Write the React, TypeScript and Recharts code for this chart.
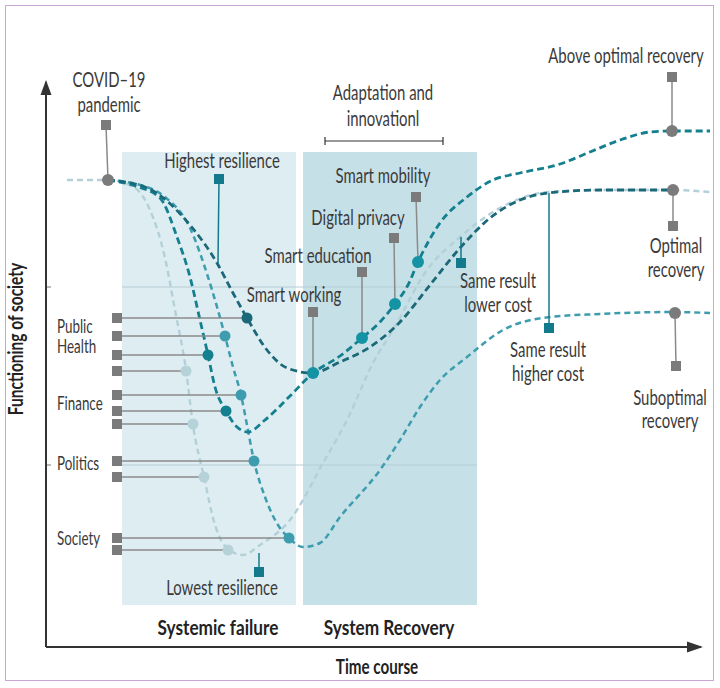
import React from "react";
import {
	Line,
	LineChart,
	ReferenceArea,
	ReferenceDot,
	ReferenceLine,
	XAxis,
	YAxis,
} from "recharts";

// time course (x) and functioning of society (y), arbitrary units
const lowX = [2.1, 6.2, 8.9, 10.4, 11.9, 12.9, 14.0, 14.7, 15.8, 16.9, 18.2, 19.7, 21.4, 24.4, 27.7, 30.1, 32.7, 34.7, 38.1, 41.4, 45.4, 50.2, 55.4, 62.6, 66.4];
const lowY = [46.7, 46.7, 45.9, 43.7, 38.9, 33.7, 27.7, 22.2, 17.0, 12.2, 9.8, 9.2, 10.2, 12.7, 18.4, 22.7, 28.4, 31.7, 37.7, 41.0, 43.9, 45.5, 45.7, 45.7, 45.5];

const midX = [6.2, 9.4, 11.9, 14.4, 16.2, 17.9, 18.7, 19.5, 20.1, 20.8, 21.9, 23.2, 24.3, 25.7, 27.4, 29.4, 33.4, 35.4, 37.4, 39.4, 42.1, 45.7, 50.4, 55.4, 62.6, 66.4];
const midY = [46.7, 46.2, 45.0, 41.9, 37.0, 31.1, 28.0, 25.2, 22.2, 18.6, 15.0, 12.2, 10.9, 10.0, 10.4, 13.0, 17.7, 20.7, 24.0, 26.7, 29.0, 31.7, 33.0, 33.3, 33.5, 33.4];

const adaptX = [6.2, 8.9, 11.4, 13.1, 14.4, 15.4, 16.2, 16.9, 18.0, 19.1, 20.2, 21.9, 24.4, 26.6, 29.4, 31.6, 33.4, 34.9, 36.2, 37.2, 39.4, 42.1, 44.7, 47.4, 51.4, 54.4, 57.4, 60.4, 62.6, 66.4];
const adaptY = [46.7, 46.1, 44.9, 41.0, 37.0, 32.7, 29.2, 26.0, 23.6, 22.0, 21.5, 22.7, 25.1, 27.3, 29.1, 30.9, 32.5, 34.3, 36.2, 38.5, 42.4, 45.0, 46.7, 47.4, 48.3, 49.5, 50.7, 51.5, 51.6, 51.6];

const highX = [6.2, 9.9, 14.4, 17.1, 18.7, 20.1, 22.1, 24.1, 26.6, 29.4, 32.4, 35.4, 38.4, 41.4, 44.4, 47.4, 50.2, 55.4, 62.6];
const highY = [46.7, 46.0, 42.2, 38.4, 35.4, 32.9, 29.7, 27.9, 27.4, 28.5, 30.0, 32.5, 36.2, 39.9, 42.9, 44.7, 45.4, 45.7, 45.7];

// sector rows: where each sector fails on each curve
const sectorRowY = [32.9, 31.1, 29.2, 27.6, 25.2, 23.6, 22.3, 18.6, 17.0, 10.9, 9.7];
const sectorRowX = [20.1, 17.9, 16.2, 14.0, 19.5, 18.0, 14.7, 20.8, 15.8, 24.3, 18.2];
const sectorRowCurve = ["high", "mid", "adapt", "low", "mid", "adapt", "low", "mid", "low", "mid", "low"];
const sectorMarkX = 7.1;

const sectorNames = ["Public", "Health", "Finance", "Politics", "Society"];
const sectorNameY = [31.4, 29.4, 23.7, 17.7, 10.2];

// phases
const failurePhase = [7.6, 25.0];
const recoveryPhase = [25.7, 43.1];
const phaseSpan = [4.2, 49.5];
const gridLevels = [36.0, 18.2];
const adaptationSpan = [27.9, 39.7, 50.6];

const calloutText: Record<string, string[]> = {
	covid: ["COVID–19", "pandemic"],
	high: ["Highest resilience"],
	mobility: ["Smart mobility"],
	privacy: ["Digital privacy"],
	education: ["Smart education"],
	working: ["Smart working"],
	lowerCost: ["Same result", "lower cost"],
	higherCost: ["Same result", "higher cost"],
	above: ["Above optimal recovery"],
	optimal: ["Optimal", "recovery"],
	suboptimal: ["Suboptimal", "recovery"],
	lowest: ["Lowest resilience"],
};
const calloutMark: Record<string, number[]> = {
	covid: [6.0, 52.2],
	high: [17.3, 46.8],
	mobility: [37.0, 45.0],
	privacy: [34.8, 40.9],
	education: [31.6, 37.5],
	working: [26.7, 33.5],
	lowerCost: [41.5, 38.4],
	higherCost: [50.3, 31.9],
	above: [62.6, 57.0],
	optimal: [62.7, 42.1],
	suboptimal: [63.0, 28.1],
	lowest: [21.3, 7.5],
};
const calloutTarget: Record<string, number[]> = {
	covid: [6.2, 46.7],
	high: [17.2, 38.4],
	mobility: [37.2, 38.5],
	privacy: [34.9, 34.3],
	education: [31.6, 30.9],
	working: [26.7, 27.4],
	lowerCost: [41.5, 41.0],
	higherCost: [50.3, 45.4],
	above: [62.6, 51.6],
	optimal: [62.7, 45.7],
	suboptimal: [62.9, 33.4],
	lowest: [21.3, 9.4],
};

const W = 720;
const H = 688;
const FONT = "Lato, 'Open Sans', sans-serif";
const TEXT = "#3a3a3a";
const GREY = "#7b7b7b";
const TEAL_MARK = "#13798c";
const DOT_TEAL = "#1493a5";

const curveColor: Record<string, string> = {
	low: "#b3d0d8",
	mid: "#3d9dae",
	adapt: "#137f8f",
	high: "#1b6878",
};

// label offsets (px) from each callout marker
const calloutStyle: Record<string, { tone: string; dot: string | null; dx: number; dy: number[] }> = {
	covid: { tone: GREY, dot: GREY, dx: 3, dy: [-38, -13] },
	high: { tone: TEAL_MARK, dot: null, dx: 3, dy: [-11] },
	mobility: { tone: GREY, dot: DOT_TEAL, dx: -33, dy: [-14] },
	privacy: { tone: GREY, dot: DOT_TEAL, dx: -36, dy: [-13] },
	education: { tone: GREY, dot: DOT_TEAL, dx: -44, dy: [-9] },
	working: { tone: GREY, dot: DOT_TEAL, dx: -19, dy: [-10] },
	lowerCost: { tone: TEAL_MARK, dot: null, dx: 37, dy: [25, 49] },
	higherCost: { tone: TEAL_MARK, dot: null, dx: -1, dy: [29, 53] },
	above: { tone: GREY, dot: GREY, dx: -46, dy: [-14] },
	optimal: { tone: GREY, dot: GREY, dx: 3, dy: [27, 51] },
	suboptimal: { tone: GREY, dot: GREY, dx: -6, dy: [39, 62] },
	lowest: { tone: TEAL_MARK, dot: null, dx: -37, dy: [23] },
};

const toPts = (xs: number[], ys: number[]) => xs.map((x, i) => ({ x, y: ys[i] }));

type TxtProps = {
	x: number;
	y: number;
	text: string;
	anchor?: "start" | "middle" | "end";
	size?: number;
	weight?: number;
	sx?: number;
	rotate?: number;
	color?: string;
};

const Txt = ({ x, y, text, anchor = "middle", size = 21, weight = 400, sx = 0.71, rotate = 0, color = TEXT }: TxtProps) => (
	<text
		transform={`translate(${x},${y}) rotate(${rotate}) scale(${sx},1)`}
		textAnchor={anchor}
		fontFamily={FONT}
		fontSize={size}
		fontWeight={weight}
		fill={color}
	>
		{text}
	</text>
);

const square = (color: string, size = 10) => (p: any) => (
	<rect x={p.cx - size / 2} y={p.cy - size / 2} width={size} height={size} fill={color} />
);

export default function App() {
	const keys = Object.keys(calloutText);
	return (
		<div style={{ position: "absolute", left: 0, top: 0, width: W, height: H, background: "#fff" }}>
			<div
				style={{
					position: "absolute",
					left: 5,
					top: 5,
					width: 709,
					height: 676,
					border: "1.5px solid #c9a6d6",
					boxSizing: "border-box",
				}}
			/>
			<LineChart
				width={W}
				height={H}
				margin={{ top: 60, right: 4, bottom: 41, left: 46 }}
				style={{ position: "absolute", left: 0, top: 0 }}
			>
				<XAxis type="number" dataKey="x" domain={[0, 67]} hide allowDataOverflow />
				<YAxis type="number" dataKey="y" domain={[0, 58.7]} hide allowDataOverflow />

				<ReferenceArea x1={failurePhase[0]} x2={failurePhase[1]} y1={phaseSpan[0]} y2={phaseSpan[1]} fill="#deedf2" fillOpacity={1} stroke="none" />
				<ReferenceArea x1={recoveryPhase[0]} x2={recoveryPhase[1]} y1={phaseSpan[0]} y2={phaseSpan[1]} fill="#c6e0e7" fillOpacity={1} stroke="none" />
				{gridLevels.map((g) => (
					<ReferenceLine key={`g${g}`} segment={[{ x: failurePhase[0], y: g }, { x: recoveryPhase[1], y: g }]} stroke="#b6ccd3" strokeWidth={1} />
				))}
				{gridLevels.map((g) => (
					<ReferenceLine key={`t${g}`} segment={[{ x: 0, y: g }, { x: 0.5, y: g }]} stroke="#777" strokeWidth={1} />
				))}

				{/* axes */}
				<ReferenceLine segment={[{ x: 0, y: 0 }, { x: 0, y: 56.5 }]} stroke="#333" strokeWidth={2} />
				<ReferenceLine segment={[{ x: 0, y: 0 }, { x: 65.5, y: 0 }]} stroke="#333" strokeWidth={2} />
				<ReferenceDot
					x={0}
					y={56.7}
					r={1}
					shape={(p: any) => <polygon points={`${p.cx},${p.cy} ${p.cx - 5.5},${p.cy + 15} ${p.cx + 5.5},${p.cy + 15}`} fill="#333" />}
				/>
				<ReferenceDot
					x={65.7}
					y={0}
					r={1}
					shape={(p: any) => (
						<g>
							<polygon points={`${p.cx},${p.cy} ${p.cx - 16},${p.cy - 5.5} ${p.cx - 16},${p.cy + 5.5}`} fill="#333" />
							<Txt x={p.cx - 326} y={p.cy + 27} text="Time course" weight={700} size={20} sx={0.76} color="#222" />
						</g>
					)}
				/>
				<ReferenceDot
					x={0}
					y={30.8}
					r={1}
					shape={(p: any) => <Txt x={p.cx - 23} y={p.cy} text="Functioning of society" weight={700} size={20} sx={0.775} rotate={-90} color="#222" />}
				/>
				<ReferenceDot
					x={failurePhase[0]}
					y={0}
					r={1}
					shape={(p: any) => <Txt x={p.cx + 96} y={p.cy - 12} text="Systemic failure" weight={700} size={21} sx={0.82} color="#222" />}
				/>
				<ReferenceDot
					x={recoveryPhase[0]}
					y={0}
					r={1}
					shape={(p: any) => <Txt x={p.cx + 86} y={p.cy - 12} text="System Recovery" weight={700} size={21} sx={0.82} color="#222" />}
				/>

				{/* adaptation bracket */}
				<ReferenceLine segment={[{ x: adaptationSpan[0], y: adaptationSpan[2] }, { x: adaptationSpan[1], y: adaptationSpan[2] }]} stroke="#333" strokeWidth={1.2} />
				<ReferenceDot
					x={adaptationSpan[0]}
					y={adaptationSpan[2]}
					r={1}
					shape={(p: any) => <line x1={p.cx} x2={p.cx} y1={p.cy - 4} y2={p.cy + 4} stroke="#333" strokeWidth={1.2} />}
				/>
				<ReferenceDot
					x={adaptationSpan[1]}
					y={adaptationSpan[2]}
					r={1}
					shape={(p: any) => (
						<g>
							<line x1={p.cx} x2={p.cx} y1={p.cy - 4} y2={p.cy + 4} stroke="#333" strokeWidth={1.2} />
							<Txt x={p.cx - 60} y={p.cy - 41} text="Adaptation and" />
							<Txt x={p.cx - 60} y={p.cy - 15} text="innovationl" />
						</g>
					)}
				/>

				<Line data={toPts(lowX, lowY)} dataKey="y" type="monotone" stroke={curveColor.low} strokeWidth={2.4} strokeDasharray="6 4" dot={false} activeDot={false} isAnimationActive={false} />
				<Line data={toPts(midX, midY)} dataKey="y" type="monotone" stroke={curveColor.mid} strokeWidth={2.5} strokeDasharray="6 4" dot={false} activeDot={false} isAnimationActive={false} />
				<Line data={toPts(adaptX, adaptY)} dataKey="y" type="monotone" stroke={curveColor.adapt} strokeWidth={2.8} strokeDasharray="7 4" dot={false} activeDot={false} isAnimationActive={false} />
				<Line data={toPts(highX, highY)} dataKey="y" type="monotone" stroke={curveColor.high} strokeWidth={2.8} strokeDasharray="7 4" dot={false} activeDot={false} isAnimationActive={false} />

				{/* sector failure rows */}
				{sectorRowY.map((y, i) => (
					<ReferenceLine key={`sl${i}`} segment={[{ x: sectorMarkX, y }, { x: sectorRowX[i], y }]} stroke="#8a8a8a" strokeWidth={1.5} />
				))}
				{sectorRowY.map((y, i) => (
					<ReferenceDot key={`sm${i}`} x={sectorMarkX} y={y} r={5} shape={square(GREY)} />
				))}
				{sectorRowY.map((y, i) => (
					<ReferenceDot key={`sd${i}`} x={sectorRowX[i]} y={y} r={5.5} fill={curveColor[sectorRowCurve[i]] === "#b3d0d8" ? "#b5d2d9" : curveColor[sectorRowCurve[i]]} stroke="none" />
				))}
				{sectorNames.map((n, i) => (
					<ReferenceDot
						key={`sn${i}`}
						x={sectorMarkX}
						y={sectorNameY[i]}
						r={1}
						shape={(p: any) => <Txt x={p.cx - 60} y={p.cy} text={n} anchor="start" size={20} sx={0.67} />}
					/>
				))}

				{/* callouts */}
				{keys.map((k) => (
					<ReferenceLine
						key={`cl${k}`}
						segment={[{ x: calloutMark[k][0], y: calloutMark[k][1] }, { x: calloutTarget[k][0], y: calloutTarget[k][1] }]}
						stroke={calloutStyle[k].tone === GREY ? "#8a8a8a" : TEAL_MARK}
						strokeWidth={1.5}
					/>
				))}
				{keys
					.filter((k) => calloutStyle[k].dot)
					.map((k) => (
						<ReferenceDot key={`cd${k}`} x={calloutTarget[k][0]} y={calloutTarget[k][1]} r={6} fill={calloutStyle[k].dot as string} stroke="none" />
					))}
				{keys.map((k) => (
					<ReferenceDot
						key={`cm${k}`}
						x={calloutMark[k][0]}
						y={calloutMark[k][1]}
						r={5}
						shape={(p: any) => (
							<g>
								<rect x={p.cx - 5} y={p.cy - 5} width={10} height={10} fill={calloutStyle[k].tone} />
								{calloutText[k].map((t, j) => (
									<Txt key={j} x={p.cx + calloutStyle[k].dx} y={p.cy + calloutStyle[k].dy[j]} text={t} />
								))}
							</g>
						)}
					/>
				))}
			</LineChart>
		</div>
	);
}
